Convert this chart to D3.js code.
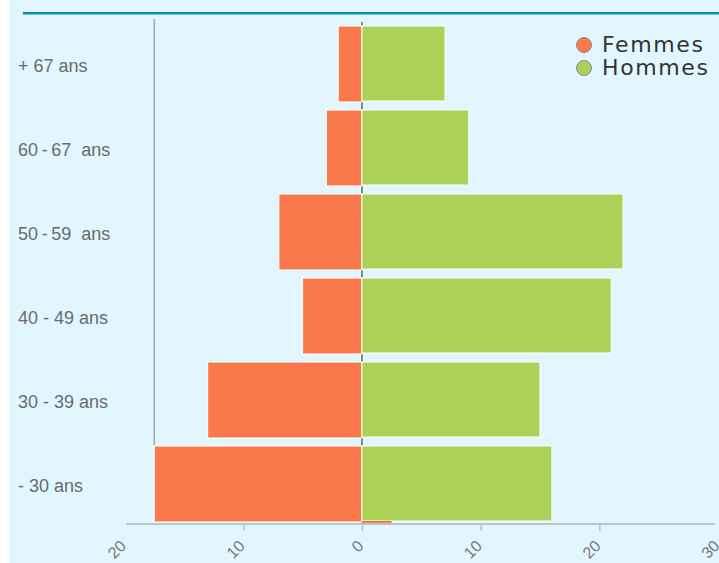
<!DOCTYPE html>
<html lang="fr">
<head>
<meta charset="utf-8">
<title>Pyramide des âges</title>
<script src="https://d3js.org/d3.v7.min.js"></script>
<style>
  html, body { margin: 0; padding: 0; background: #fff; }
  svg { display: block; }
</style>
</head>
<body>
<div id="chart"></div>
<script>
// Data
const categories = ["+ 67 ans", "60\u2009-\u200967  ans", "50\u2009-\u200959  ans", "40 - 49 ans", "30 - 39 ans", "- 30 ans"];
const femmes = [2, 3, 7, 5, 13, 17.5];
const hommes = [7, 9, 22, 21, 15, 16];
const autre = [0, 0, 0, 0, 0, 2.5];
const tickValues = [-20, -10, 0, 10, 20, 30];
const series = ["Femmes", "Hommes"];
const colors = ["#fb7a4b", "#acd157"];

const W = 719, H = 563;

const svg = d3.select("#chart").append("svg")
  .attr("width", W)
  .attr("height", H);

// background
svg.append("rect")
  .attr("x", 9).attr("y", 0)
  .attr("width", W - 9).attr("height", H)
  .attr("fill", "#e1f6fe");

svg.append("rect")
  .attr("x", 23).attr("y", 12)
  .attr("width", W - 23).attr("height", 2.5)
  .attr("fill", "#0a8ea9");

// Scales
const x = d3.scaleLinear().domain([-20, 30]).range([124.6, 718]);
const y = d3.scaleBand().domain(categories).range([26, 522]).paddingInner(0.0952).paddingOuter(0);

// left gray line
svg.append("line")
  .attr("x1", x(-d3.max(femmes))).attr("x2", x(-d3.max(femmes)))
  .attr("y1", 19).attr("y2", y(categories[5]) - 1)
  .attr("stroke", "#a8a8a8").attr("stroke-width", 1.5);

// center line
svg.append("line")
  .attr("x1", x(0)).attr("x2", x(0))
  .attr("y1", 22).attr("y2", 524)
  .attr("stroke", "#666").attr("stroke-width", 1.5);

// x axis
const xAxis = svg.append("g")
  .attr("transform", "translate(0,524)")
  .call(d3.axisBottom(x).tickValues(tickValues).tickSize(7).tickSizeOuter(0).tickFormat(d => Math.abs(d)));
xAxis.select(".domain").attr("stroke", "#bcc4c8").attr("stroke-width", 2)
  .attr("d", `M126,0H${W - 4}`);
xAxis.selectAll(".tick line").attr("stroke", "#bcc4c8").attr("stroke-width", 1.5)
  .attr("display", d => (d === -20 || d === 30) ? "none" : null);
xAxis.selectAll(".tick text")
  .attr("y", null).attr("dy", null)
  .attr("fill", "#777")
  .style("font-family", "'Liberation Sans', Arial, sans-serif")
  .style("font-size", "16px")
  .attr("text-anchor", "end")
  .attr("transform", "translate(2,23) rotate(-45)");

// Bars
svg.append("g").selectAll("rect")
  .data(categories)
  .join("rect")
  .attr("x", (d, i) => x(-femmes[i]))
  .attr("y", d => y(d))
  .attr("width", (d, i) => x(0) - x(-femmes[i]))
  .attr("height", y.bandwidth())
  .attr("fill", colors[0])
  .attr("stroke", "#fff").attr("stroke-width", 1);

svg.append("g").selectAll("rect")
  .data(categories)
  .join("rect")
  .attr("x", x(0))
  .attr("y", d => y(d))
  .attr("width", (d, i) => x(hommes[i]) - x(0))
  .attr("height", y.bandwidth() - 1)
  .attr("fill", colors[1])
  .attr("stroke", "#fff").attr("stroke-width", 1);

svg.append("g").selectAll("rect")
  .data(categories.filter((d, i) => autre[i] > 0))
  .join("rect")
  .attr("x", x(0))
  .attr("y", d => y(d) + y.bandwidth() - 1)
  .attr("width", d => x(autre[categories.indexOf(d)]) - x(0))
  .attr("height", 2)
  .attr("fill", colors[0]);

// Y labels
svg.append("g").selectAll("text")
  .data(categories)
  .join("text")
  .attr("x", 18)
  .attr("y", d => y(d) + y.bandwidth() / 2 + 8)
  .attr("fill", "#6b6b6b")
  .style("font-family", "'Liberation Sans', Arial, sans-serif")
  .style("font-size", "18px")
  .style("white-space", "pre")
  .text(d => d);

// Legend
const legend = svg.append("g");
series.forEach((s, i) => {
  legend.append("circle")
    .attr("cx", 584).attr("cy", 45 + i * 23)
    .attr("r", 7.5)
    .attr("fill", colors[i])
    .attr("stroke", "#8a8a8a").attr("stroke-width", 1);
  legend.append("text")
    .attr("x", 602).attr("y", 52 + i * 23)
    .attr("fill", "#333")
    .style("font-family", "'DejaVu Sans', sans-serif")
    .style("font-size", "22px")
    .style("letter-spacing", "1.6px")
    .text(s);
});
</script>
</body>
</html>
